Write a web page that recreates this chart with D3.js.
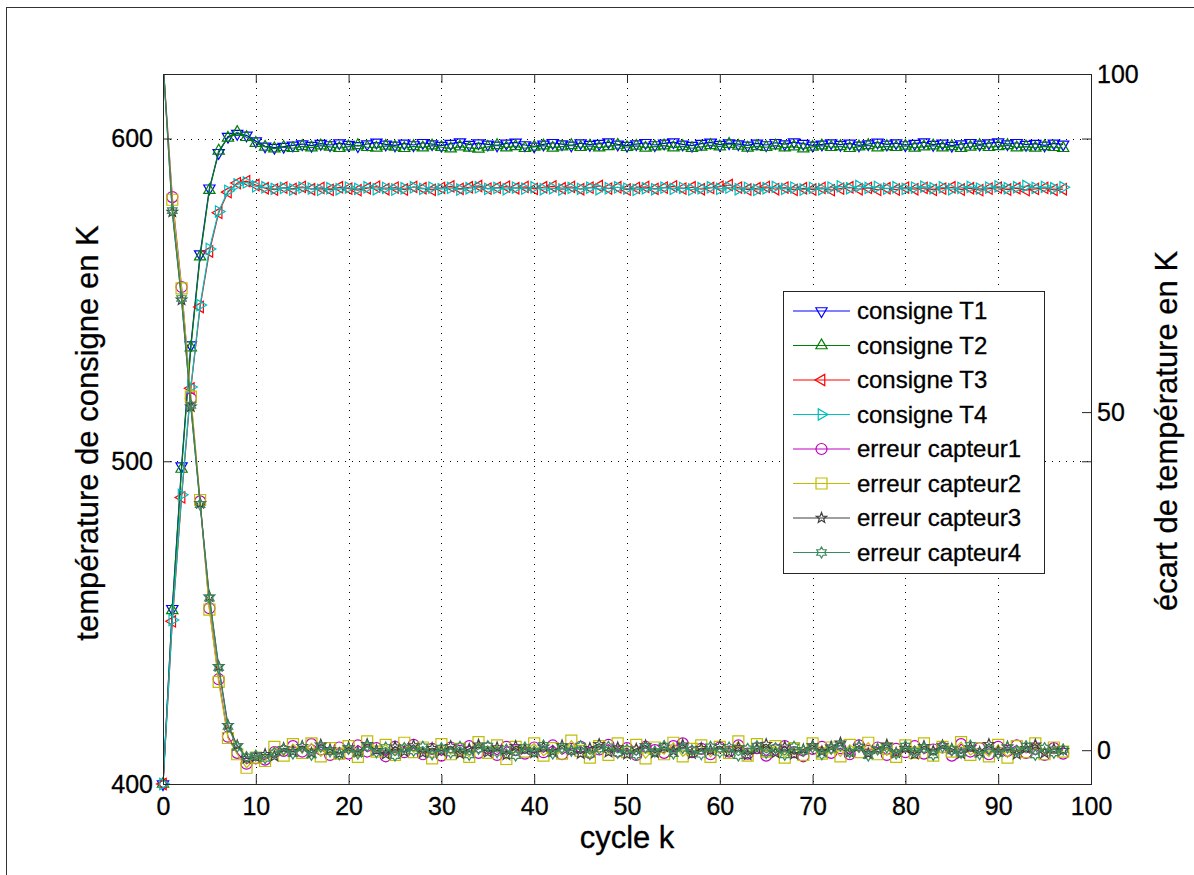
<!DOCTYPE html>
<html>
<head>
<meta charset="utf-8">
<script src="https://cdn.jsdelivr.net/npm/d3@7"></script>
<style>
  body { margin: 0; background: #fff; }
  svg { display: block; }
  text { font-family: "Liberation Sans", Arial, Helvetica, sans-serif; fill: #000; stroke: #000; stroke-width: 0.3px; }
</style>
</head>
<body>
<svg id="chart" width="1194" height="875"></svg>
<script>
// cycle index k
const cycles = d3.range(0, 98);

// set-point temperatures (left axis, K)
const consigneT1 = [
  400, 454.3, 498.5, 536.0, 564.2, 584.6, 595.6, 600.6, 601.5, 601.0,
  599.2, 597.6, 597.2, 597.5, 597.9, 598.3, 597.8, 598.4, 598.0, 598.6,
  598.1, 597.7, 598.3, 598.8, 598.2, 597.9, 598.5, 598.0, 598.7, 598.3,
  597.8, 598.4, 598.9, 598.1, 598.6, 598.2, 597.9, 598.5, 598.8, 598.0,
  597.6, 598.2, 598.7, 598.3, 597.9, 598.6, 598.1, 598.4, 598.9, 598.2,
  597.8, 598.3, 598.7, 598.0, 598.5, 598.9, 598.2, 597.8, 598.4, 598.8,
  598.1, 598.6, 598.3, 597.9, 598.5, 598.0, 598.7, 598.3, 598.9, 598.4,
  597.9, 598.2, 598.6, 598.1, 598.5, 597.9, 598.3, 598.8, 598.2, 598.6,
  598.0, 598.4, 598.9, 598.1, 598.5, 597.8, 598.3, 598.7, 598.2, 598.6,
  598.9, 598.3, 598.7, 598.1, 598.4, 597.9, 598.5, 598.2
];
const consigneT2 = [
  400, 453.8, 497.6, 535.2, 563.4, 584.0, 596.2, 600.2, 602.0, 600.4,
  598.6, 597.4, 596.9, 597.3, 597.0, 597.6, 597.2, 597.8, 597.4, 597.0,
  597.5, 597.9, 597.3, 597.1, 597.7, 597.4, 597.0, 597.6, 597.2, 597.8,
  597.3, 596.9, 597.5, 597.1, 596.8, 597.4, 597.9, 597.2, 597.6, 597.0,
  597.4, 597.8, 597.1, 597.5, 597.9, 597.3, 597.7, 597.2, 597.6, 598.0,
  597.3, 597.7, 597.1, 597.5, 597.8, 597.2, 597.6, 597.0, 597.4, 597.9,
  597.5, 598.3, 597.7, 597.1, 597.6, 597.3, 597.8, 597.2, 597.5, 596.9,
  597.4, 597.8, 597.3, 597.6, 597.0, 597.5, 597.9, 597.2, 597.6, 597.3,
  597.7, 597.1, 597.5, 597.8, 597.2, 597.6, 597.0, 597.4, 597.9, 597.3,
  597.6, 597.9, 597.2, 597.5, 597.1, 597.6, 597.3, 597.0
];
const consigneT3 = [
  400, 450.4, 488.8, 522.6, 547.8, 565.0, 577.0, 583.4, 586.2, 586.8,
  585.6, 584.6, 584.2, 584.8, 584.4, 585.0, 584.3, 584.7, 584.1, 584.9,
  584.5, 584.0, 584.6, 585.1, 584.3, 584.8, 584.2, 585.0, 584.6, 584.1,
  584.7, 585.2, 584.4, 584.9, 585.3, 584.5, 584.8, 585.1, 584.6, 585.0,
  584.4, 584.9, 585.2, 584.6, 585.0, 584.3, 584.8, 585.3, 584.5, 584.9,
  584.2, 584.7, 585.0, 584.4, 584.8, 585.2, 584.5, 584.9, 584.3, 584.7,
  585.1, 585.6, 584.8, 584.2, 584.6, 585.0, 584.3, 584.8, 584.1, 584.6,
  584.2, 584.7, 584.0, 584.5, 584.9, 584.3, 584.7, 584.1, 584.6, 584.2,
  584.8, 584.3, 584.7, 584.1, 584.5, 584.9, 584.2, 584.6, 584.0, 584.5,
  584.8, 584.2, 584.6, 584.0, 584.4, 584.7, 584.1, 584.3
];
const consigneT4 = [
  400, 450.8, 489.6, 523.0, 548.4, 565.8, 577.4, 583.8, 585.8, 586.4,
  585.2, 584.9, 584.4, 584.7, 584.2, 584.8, 584.5, 584.1, 584.6, 584.3,
  584.8, 584.4, 584.9, 584.3, 584.7, 584.2, 584.6, 584.9, 584.4, 584.8,
  584.3, 584.7, 584.2, 584.6, 584.9, 584.4, 584.7, 584.3, 584.8, 584.5,
  584.9, 584.3, 584.6, 584.2, 584.7, 584.4, 584.8, 584.3, 584.6, 584.9,
  584.5, 584.1, 584.6, 584.3, 584.8, 584.4, 584.7, 584.2, 584.6, 584.9,
  584.4, 584.8, 584.3, 584.7, 584.1, 584.6, 585.0, 584.4, 584.8, 584.2,
  584.7, 584.3, 584.8, 585.2, 584.6, 585.3, 584.7, 585.0, 584.5, 584.9,
  584.4, 584.8, 585.1, 584.6, 584.9, 584.3, 584.7, 585.0, 584.5, 584.8,
  585.2, 584.6, 584.9, 585.3, 584.7, 585.0, 584.6, 584.9
];

// sensor errors (right axis, K)
const erreurCapteur1 = [
  101.8, 81.8, 68.5, 52.0, 36.8, 21.0, 10.5, 2.0, -0.4, -2.0,
  -1.2, -1.4, -0.3, -0.1, 0.6, -0.2, 0.9, 0.1, -0.7, 0.4,
  -0.5, 0.7, -0.2, 0.3, -0.9, 0.5, -0.3, 0.8, -0.6, 0.2,
  -0.8, 0.4, -0.1, 0.6, -0.4, 0.3, -0.7, 0.5, 0.0, -0.5,
  0.4, -0.3, 0.7, -0.6, 0.2, 0.5, -0.4, 0.1, 0.8, -0.2,
  0.3, -0.7, 0.5, 0.0, -0.4, 0.6, 1.0, -0.3, 0.2, -0.6,
  0.4, -0.2, 0.7, -0.5, 0.3, -0.8, 0.1, 0.6, -0.3, -0.9,
  0.2, 0.5, -0.4, 0.3, -0.6, 0.7, -0.1, 0.4, -0.7, 0.2,
  -0.3, 0.6, -0.5, 0.1, 0.4, -0.8, 0.9, -0.2, 0.3, -0.6,
  0.5, -0.1, 0.7, -0.4, 0.2, -0.7, 0.3, -0.5
];
const erreurCapteur2 = [
  101.6, 81.4, 68.3, 52.3, 37.0, 20.8, 10.1, 1.8, -0.6, -2.6,
  -1.1, -1.6, 0.5, -0.8, 0.9, -0.4, 1.0, -0.9, 0.3, -0.5,
  0.6, -1.0, 1.3, -0.2, 0.8, -0.7, 1.1, -0.3, 0.4, -1.2,
  0.9, -0.6, 0.2, -1.0, 1.2, -0.4, 0.7, -1.3, 0.5, -0.2,
  1.0, -0.8, 0.3, -0.5, 1.4, -0.1, -1.1, 0.6, -0.7, 1.0,
  -0.3, 0.8, -1.2, 0.4, -0.6, 1.1, -0.9, 0.2, 0.7, -1.0,
  0.5, -0.4, 1.3, -0.8, 0.9, -0.2, 0.6, -1.1, 0.3, -0.7,
  1.0, -0.5, 0.4, -0.9, 0.8, -0.3, 1.1, -0.6, 0.2, -1.0,
  0.7, -0.4, 1.0, -0.8, 0.5, -0.2, 1.2, -0.7, 0.3, -0.9,
  0.8, -1.1, 0.6, -0.3, 1.0, -0.6, 0.4, -0.2
];
const erreurCapteur3 = [
  102.2, 79.6, 66.6, 50.8, 36.5, 22.7, 12.4, 3.7, 0.7, -1.2,
  -1.0, -0.6, -0.9, 0.3, -0.2, 0.6, -0.4, 0.8, 0.1, -0.5,
  0.4, -0.3, 0.9, 0.0, -0.6, 0.5, -0.2, 0.7, -0.4, 0.3,
  -0.1, 0.6, -0.5, 0.2, 0.8, -0.3, 0.4, -0.7, 0.6, 0.1,
  -0.4, 0.5, -0.2, 0.7, 0.0, -0.5, 0.3, 0.9, -0.3, 0.4,
  -0.6, 0.2, 0.7, -0.4, 0.5, -0.1, 0.8, -0.5, 0.3, 0.0,
  0.6, -0.3, 0.4, -0.7, 0.2, 0.9, -0.4, 0.5, -0.6, 0.1,
  0.7, -0.2, 0.5, 1.1, -0.3, 0.6, -0.5, 0.2, 0.8, -0.4,
  0.3, -0.6, 0.6, -0.1, 0.7, 0.2, -0.5, 0.4, -0.3, 0.9,
  -0.2, 0.5, -0.6, 0.3, 0.8, -0.4, 0.2, 0.0
];
const erreurCapteur4 = [
  102.0, 79.8, 66.8, 51.0, 36.3, 22.5, 12.2, 3.5, 0.5, -1.0,
  -0.8, -1.2, -0.4, 0.1, -0.5, 0.4, -0.7, 0.5, -0.2, -0.6,
  0.2, -0.5, 0.6, -0.3, 0.4, -0.8, 0.3, -0.1, 0.5, -0.6,
  0.3, -0.4, 0.5, -0.7, 0.2, 0.6, -0.3, 0.1, -0.8, 0.4,
  -0.2, 0.7, -0.5, 0.3, -0.1, 0.6, -0.6, 0.2, 0.5, -0.4,
  0.1, -0.7, 0.4, -0.2, 0.6, -0.5, 0.3, 0.0, -0.6, 0.5,
  -0.3, 0.4, -0.8, 0.2, 0.6, -0.4, 0.3, -0.7, 0.5, -0.1,
  0.4, -0.6, 0.2, 0.7, -0.3, 0.5, -0.8, 0.1, 0.4, -0.5,
  0.6, -0.2, 0.3, -0.7, 0.5, 0.0, -0.4, 0.7, -0.6, 0.2,
  -0.5, 0.4, -0.1, 0.6, -0.7, 0.3, -0.4, 0.1
];

const xTickValues = [0, 10, 20, 30, 40, 50, 60, 70, 80, 90, 100];
const leftTickValues = [400, 500, 600];
const rightTickValues = [0, 50, 100];
const seriesLabels = [
  "consigne T1", "consigne T2", "consigne T3", "consigne T4",
  "erreur capteur1", "erreur capteur2", "erreur capteur3", "erreur capteur4"
];

// ---- layout ----
const plot = { left: 163, top: 74, right: 1091, bottom: 784 };
const svg = d3.select("#chart");

const x = d3.scaleLinear().domain([0, 100]).range([plot.left, plot.right]);
const yLeft = d3.scaleLinear().domain([400, 620]).range([plot.bottom, plot.top]);
const yRight = d3.scaleLinear().domain([-5, 100]).range([plot.bottom, plot.top]);

// outer figure frame
svg.append("rect")
  .attr("x", 6.5).attr("y", 7.5).attr("width", 1300).attr("height", 1000)
  .attr("fill", "none").attr("stroke", "#333").attr("stroke-width", 1);

// ---- marker shapes (unfilled) ----
function triangle(dir) {
  return {
    draw(ctx, size) {
      const r = Math.sqrt(size) / 2;
      const pts = [[0, -r], [-0.866 * r, r / 2], [0.866 * r, r / 2]];
      const rot = { up: 0, down: Math.PI, left: -Math.PI / 2, right: Math.PI / 2 }[dir];
      pts.forEach(([px, py], i) => {
        const qx = px * Math.cos(rot) - py * Math.sin(rot);
        const qy = px * Math.sin(rot) + py * Math.cos(rot);
        i ? ctx.lineTo(qx, qy) : ctx.moveTo(qx, qy);
      });
      ctx.closePath();
    }
  };
}
function star(points, innerRatio) {
  return {
    draw(ctx, size) {
      const R = Math.sqrt(size) / 2, r = R * innerRatio;
      for (let i = 0; i < points * 2; i++) {
        const a = -Math.PI / 2 + i * Math.PI / points;
        const rr = i % 2 ? r : R;
        i ? ctx.lineTo(rr * Math.cos(a), rr * Math.sin(a)) : ctx.moveTo(rr * Math.cos(a), rr * Math.sin(a));
      }
      ctx.closePath();
    }
  };
}
const squareShape = {
  draw(ctx, size) { const h = Math.sqrt(size) / 2; ctx.rect(-h, -h, 2 * h, 2 * h); }
};
const circleShape = {
  draw(ctx, size) { const r = Math.sqrt(size) / 2; ctx.moveTo(r, 0); ctx.arc(0, 0, r, 0, 2 * Math.PI); }
};

const series = [
  { name: seriesLabels[0], values: consigneT1, axis: "left", color: "#0000ff", shape: triangle("down"), size: 13 },
  { name: seriesLabels[1], values: consigneT2, axis: "left", color: "#008000", shape: triangle("up"), size: 13 },
  { name: seriesLabels[2], values: consigneT3, axis: "left", color: "#ff0000", shape: triangle("left"), size: 13 },
  { name: seriesLabels[3], values: consigneT4, axis: "left", color: "#00bfbf", shape: triangle("right"), size: 13 },
  { name: seriesLabels[4], values: erreurCapteur1, axis: "right", color: "#bf00bf", shape: circleShape, size: 11 },
  { name: seriesLabels[5], values: erreurCapteur2, axis: "right", color: "#bfbf00", shape: squareShape, size: 11 },
  { name: seriesLabels[6], values: erreurCapteur3, axis: "right", color: "#404040", shape: star(5, 0.42), size: 11 },
  { name: seriesLabels[7], values: erreurCapteur4, axis: "right", color: "#3a8c5c", shape: star(6, 0.58), size: 11 }
];

// ---- grid ----
const grid = svg.append("g").attr("stroke", "#000").attr("stroke-width", 1)
  .attr("stroke-dasharray", "1,6");
grid.selectAll("line.v").data(xTickValues.filter(v => v > 0 && v < 100)).join("line")
  .attr("class", "v")
  .attr("x1", d => Math.round(x(d)) + 0.5).attr("x2", d => Math.round(x(d)) + 0.5)
  .attr("y1", plot.top).attr("y2", plot.bottom);
grid.selectAll("line.h").data(leftTickValues.filter(v => v > 400)).join("line")
  .attr("class", "h")
  .attr("y1", d => Math.round(yLeft(d)) + 0.5).attr("y2", d => Math.round(yLeft(d)) + 0.5)
  .attr("x1", plot.left).attr("x2", plot.right);

// ---- data ----
svg.append("clipPath").attr("id", "plotClip").append("rect")
  .attr("x", plot.left).attr("y", plot.top)
  .attr("width", plot.right - plot.left).attr("height", plot.bottom - plot.top);

series.forEach(s => {
  const yScale = s.axis === "left" ? yLeft : yRight;
  const pts = cycles.map((k, i) => ({ k, v: s.values[i] }));
  const g = svg.append("g");
  g.append("path")
    .attr("clip-path", "url(#plotClip)")
    .attr("d", d3.line().x(d => x(d.k)).y(d => yScale(d.v))(pts))
    .attr("fill", "none").attr("stroke", s.color).attr("stroke-width", 1.2);
  const [lo, hi] = yScale.domain();
  const sym = d3.symbol().type(s.shape).size(s.size * s.size);
  g.selectAll("path.m").data(pts.filter(d => d.v >= lo && d.v <= hi)).join("path")
    .attr("class", "m")
    .attr("transform", d => `translate(${x(d.k)},${yScale(d.v)})`)
    .attr("d", sym)
    .attr("fill", "none").attr("stroke", s.color).attr("stroke-width", 1.2);
});

// ---- axes ----
const tickLen = 9;
function styleAxis(g) {
  g.select(".domain").remove();
  g.selectAll(".tick line").attr("stroke", "#262626");
  g.selectAll(".tick text").attr("font-size", 25).attr("fill", "#000")
    .attr("font-family", "'Liberation Sans', Arial, sans-serif");
}
svg.append("g").attr("transform", `translate(0,${plot.bottom})`)
  .call(d3.axisBottom(x).tickValues(xTickValues).tickSize(-tickLen).tickPadding(13).tickFormat(d3.format("d")))
  .call(styleAxis);
svg.append("g").attr("transform", `translate(0,${plot.top})`)
  .call(d3.axisTop(x).tickValues(xTickValues).tickSize(-tickLen).tickFormat(""))
  .call(styleAxis);
svg.append("g").attr("transform", `translate(${plot.left},0)`)
  .call(d3.axisLeft(yLeft).tickValues(leftTickValues).tickSize(-tickLen).tickPadding(10).tickFormat(d3.format("d")))
  .call(styleAxis);
svg.append("g").attr("transform", `translate(${plot.right},0)`)
  .call(d3.axisRight(yLeft).tickValues(leftTickValues).tickSize(-tickLen).tickFormat(""))
  .call(styleAxis);
svg.append("g").attr("transform", `translate(${plot.right},0)`)
  .call(d3.axisRight(yRight).tickValues(rightTickValues).tickSize(-tickLen).tickPadding(6).tickFormat(d3.format("d")))
  .call(styleAxis);

// plot box
svg.append("rect")
  .attr("x", plot.left + 0.5).attr("y", plot.top + 0.5)
  .attr("width", plot.right - plot.left).attr("height", plot.bottom - plot.top)
  .attr("fill", "none").attr("stroke", "#262626").attr("stroke-width", 1);

// ---- axis titles ----
svg.append("text").attr("x", (plot.left + plot.right) / 2).attr("y", 848)
  .attr("text-anchor", "middle").attr("font-size", 31).text("cycle k");
svg.append("text").attr("transform", `translate(98,${(plot.top + plot.bottom) / 2 + 4}) rotate(-90)`)
  .attr("text-anchor", "middle").attr("font-size", 31).text("température de consigne en K");
svg.append("text").attr("transform", `translate(1177,${(plot.top + plot.bottom) / 2 + 2}) rotate(-90)`)
  .attr("text-anchor", "middle").attr("font-size", 31).text("écart de température en K");

// ---- legend ----
const legend = { x: 783, y: 291, w: 261, h: 282, row0: 311, rowStep: 34.5 };
const lg = svg.append("g");
lg.append("rect")
  .attr("x", legend.x + 0.5).attr("y", legend.y + 0.5).attr("width", legend.w).attr("height", legend.h)
  .attr("fill", "#fff").attr("stroke", "#262626").attr("stroke-width", 1);
series.forEach((s, i) => {
  const cy = legend.row0 + i * legend.rowStep;
  lg.append("line").attr("x1", 793).attr("x2", 850).attr("y1", cy).attr("y2", cy)
    .attr("stroke", s.color).attr("stroke-width", 1.2);
  lg.append("path").attr("transform", `translate(821.5,${cy})`)
    .attr("d", d3.symbol().type(s.shape).size(s.size * s.size))
    .attr("fill", "none").attr("stroke", s.color).attr("stroke-width", 1.2);
  lg.append("text").attr("x", 857).attr("y", cy).attr("dy", "0.35em")
    .attr("font-size", 24).text(s.name);
});
</script>
</body>
</html>
